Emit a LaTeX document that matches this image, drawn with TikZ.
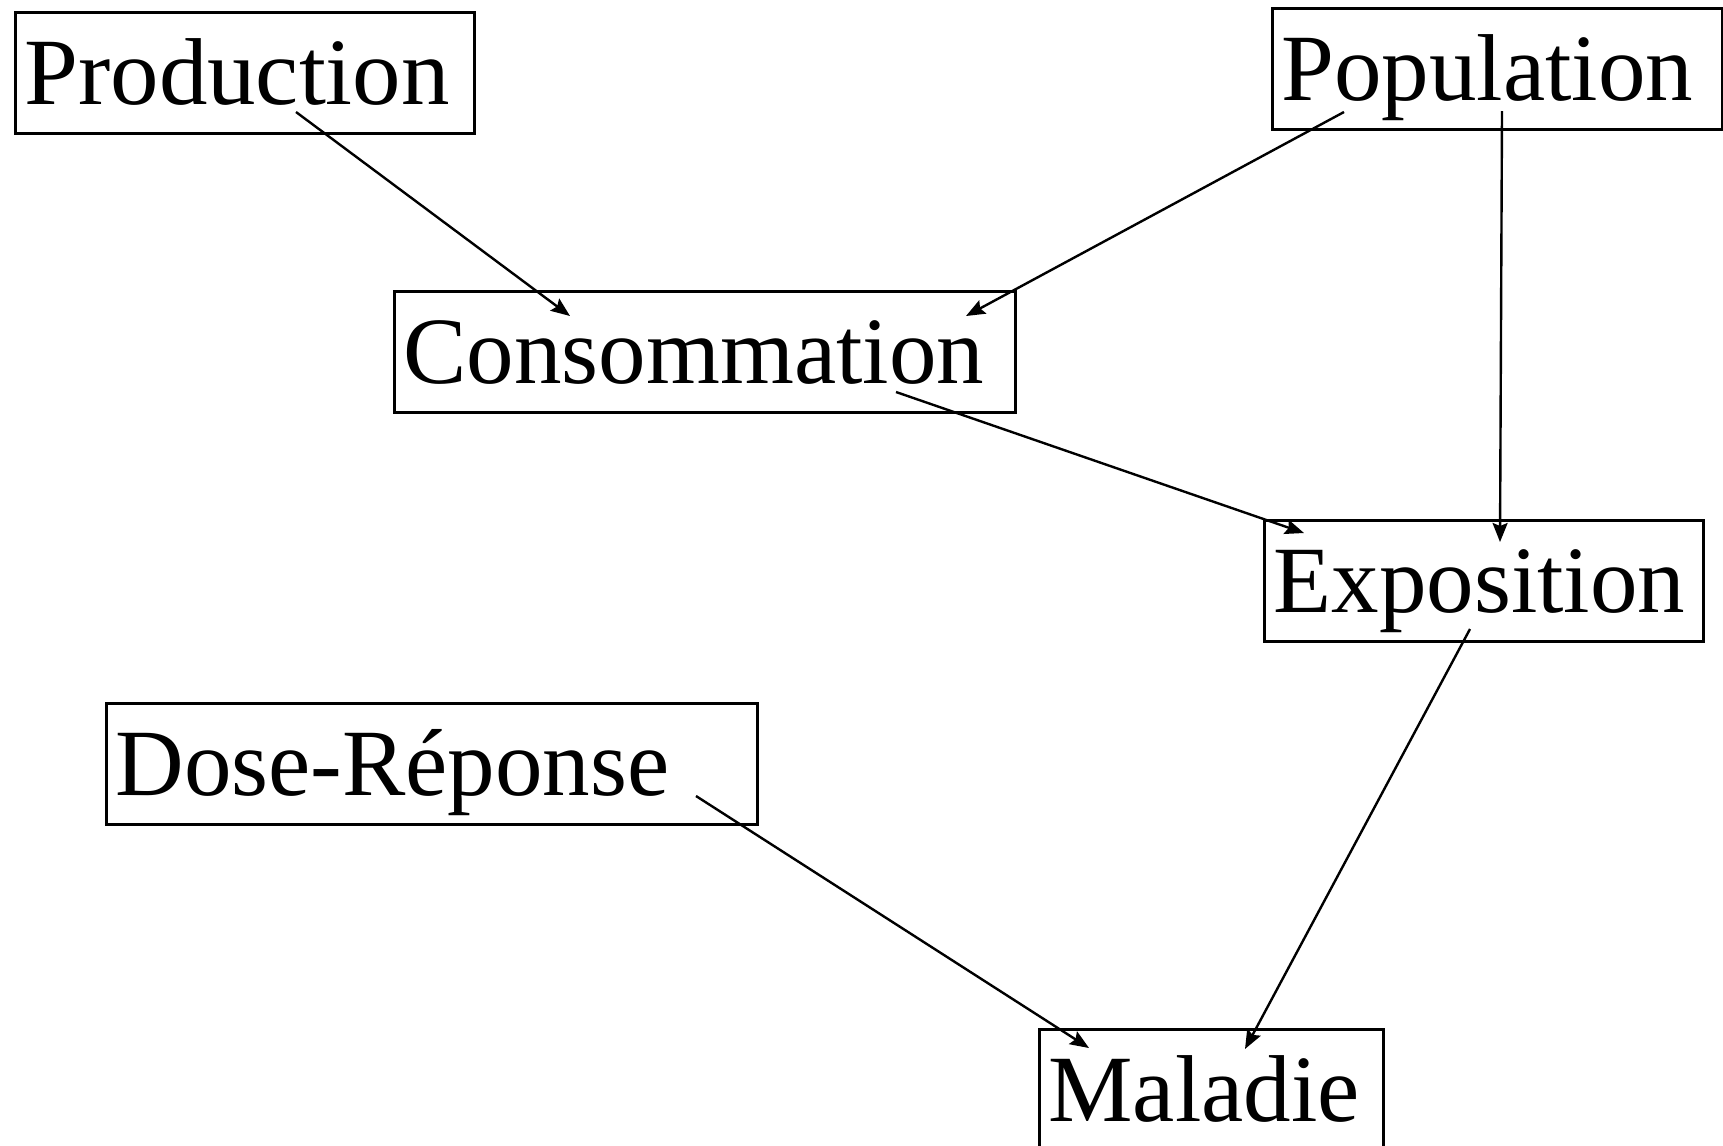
\documentclass[tikz,border=0pt]{standalone}
\usepackage{fontspec}
\setmainfont{Liberation Serif}
\usetikzlibrary{arrows.meta}
\tikzset{
  stage/.style={draw=black, line width=3bp, rectangle, anchor=north west,
    inner xsep=9bp, inner ysep=0pt, align=left,
    text height=92bp, text depth=29bp,
    font=\fontsize{95bp}{100bp}\selectfont},
  link/.style={draw=black, line width=2.4bp,
    -{Stealth[length=19bp,width=15bp,inset=3bp]}}
}
\begin{document}
\begin{tikzpicture}[x=1bp, y=-1bp]
\useasboundingbox (0,0) rectangle (1723,1145);

% stages of the risk chain
\node[stage, text width=441bp] (prod) at (14,11) {\scalebox{1.02}[1]{Production}};
\node[stage, text width=432bp] (pop)  at (1271,7) {Population};
\node[stage, text width=603bp] (cons) at (393,290) {Consommation};
\node[stage, text width=421bp] (expo) at (1263,519) {Exposition};
\node[stage, text width=633bp] (dose) at (105,702) {Dose-Réponse};
\node[stage, text width=326bp] (mal)  at (1038,1028) {Maladie};

% where the links leave and enter the boxes
\coordinate (prodOut)  at (296,112);
\coordinate (consInA)  at (570,316);
\coordinate (popOutA)  at (1344,112);
\coordinate (consInB)  at (966,316);
\coordinate (popOutB)  at (1502,111);
\coordinate (expoInA)  at (1500,542);
\coordinate (consOut)  at (896,392);
\coordinate (expoInB)  at (1304,533);
\coordinate (expoOut)  at (1470,629);
\coordinate (malInA)   at (1245,1049);
\coordinate (doseOut)  at (696,796);
\coordinate (malInB)   at (1089,1048);

\draw[link] (prodOut) -- (consInA);
\draw[link] (popOutA) -- (consInB);
\draw[link] (popOutB) -- (expoInA);
\draw[link] (consOut) -- (expoInB);
\draw[link] (expoOut) -- (malInA);
\draw[link] (doseOut) -- (malInB);
\end{tikzpicture}
\end{document}
